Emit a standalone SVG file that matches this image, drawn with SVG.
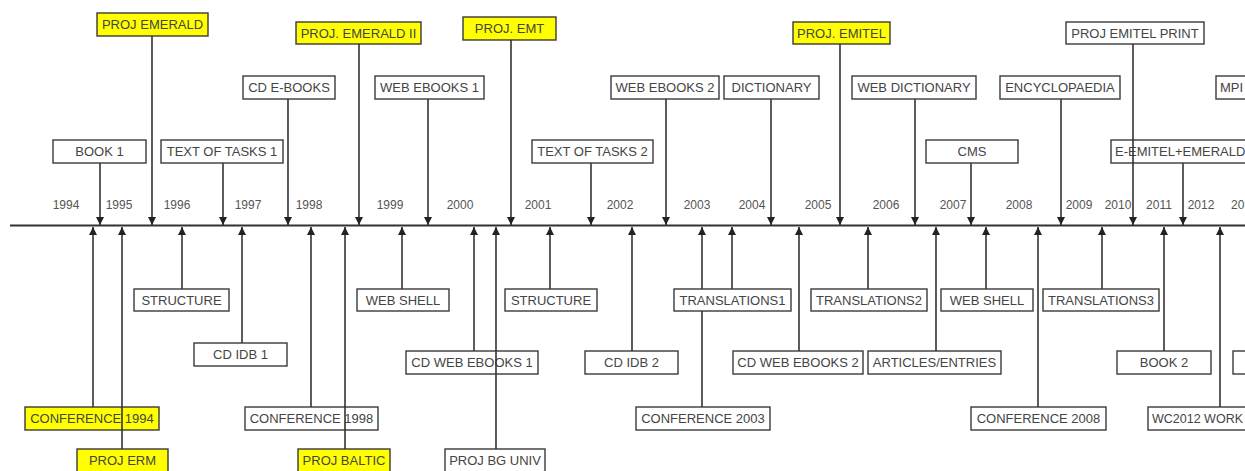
<svg xmlns="http://www.w3.org/2000/svg" width="1245" height="471" viewBox="0 0 1245 471">
<style>
.b{fill:#fff;stroke:#3a3a3a;stroke-width:1.4}
.y{fill:#ffff00;stroke:#3a3a3a;stroke-width:1.4}
.t{font-family:"Liberation Sans",Arial,sans-serif;font-size:13px;fill:#444;text-anchor:middle}
.s{font-family:"Liberation Sans",Arial,sans-serif;font-size:13px;fill:#444;text-anchor:start}
.yr{font-family:"Liberation Sans",Arial,sans-serif;font-size:12px;fill:#555;text-anchor:middle}
.c{stroke:#333;stroke-width:1.6;fill:none;marker-end:url(#ah)}
.p{stroke:#333;stroke-width:1.6;fill:none}
</style>
<defs>
<marker id="ah" viewBox="0 0 8 8" refX="8" refY="4" markerWidth="8" markerHeight="8" markerUnits="userSpaceOnUse" orient="auto">
<path d="M0,0 L8,4 L0,8 z" fill="#222"/>
</marker>
</defs>
<rect width="1245" height="471" fill="#fff"/>

<g id="years">
<text class="yr" x="66" y="209">1994</text>
<text class="yr" x="119" y="209">1995</text>
<text class="yr" x="177" y="209">1996</text>
<text class="yr" x="248" y="209">1997</text>
<text class="yr" x="309" y="209">1998</text>
<text class="yr" x="390" y="209">1999</text>
<text class="yr" x="460" y="209">2000</text>
<text class="yr" x="538" y="209">2001</text>
<text class="yr" x="620" y="209">2002</text>
<text class="yr" x="697" y="209">2003</text>
<text class="yr" x="752" y="209">2004</text>
<text class="yr" x="818" y="209">2005</text>
<text class="yr" x="886" y="209">2006</text>
<text class="yr" x="953" y="209">2007</text>
<text class="yr" x="1019" y="209">2008</text>
<text class="yr" x="1079" y="209">2009</text>
<text class="yr" x="1118" y="209">2010</text>
<text class="yr" x="1159" y="209">2011</text>
<text class="yr" x="1201" y="209">2012</text>
<text class="yr" x="1231" y="209" style="text-anchor:start">20</text>
</g>

<g id="axis"><line x1="10" y1="225.5" x2="1245" y2="225.5" stroke="#333" stroke-width="2"/></g>

<!-- top nodes -->
<g id="book1"><rect class="b" x="53" y="140" width="93" height="23"/><text class="t" x="99.5" y="156">BOOK 1</text></g>
<g id="proj-emerald"><rect class="y" x="97" y="13" width="111" height="23"/><text class="t" x="152.5" y="29">PROJ EMERALD</text></g>
<g id="text-of-tasks-1"><rect class="b" x="161" y="140" width="122" height="23"/><text class="t" x="222" y="156">TEXT OF TASKS 1</text></g>
<g id="cd-e-books"><rect class="b" x="243" y="76" width="92" height="23"/><text class="t" x="289" y="92">CD E-BOOKS</text></g>
<g id="proj-emerald-ii"><rect class="y" x="296" y="22" width="125" height="22"/><text class="t" x="358.5" y="38">PROJ. EMERALD II</text></g>
<g id="web-ebooks-1"><rect class="b" x="375" y="76" width="109" height="23"/><text class="t" x="429.5" y="92">WEB EBOOKS 1</text></g>
<g id="proj-emt"><rect class="y" x="463" y="17" width="93" height="23"/><text class="t" x="509.5" y="33">PROJ. EMT</text></g>
<g id="text-of-tasks-2"><rect class="b" x="532" y="140" width="121" height="23"/><text class="t" x="592.5" y="156">TEXT OF TASKS 2</text></g>
<g id="web-ebooks-2"><rect class="b" x="611" y="76" width="108" height="23"/><text class="t" x="665" y="92">WEB EBOOKS 2</text></g>
<g id="dictionary"><rect class="b" x="724" y="76" width="95" height="23"/><text class="t" x="771.5" y="92">DICTIONARY</text></g>
<g id="proj-emitel"><rect class="y" x="793" y="22" width="97" height="22"/><text class="t" x="841.5" y="38">PROJ. EMITEL</text></g>
<g id="web-dictionary"><rect class="b" x="852" y="76" width="124" height="23"/><text class="t" x="914" y="92">WEB DICTIONARY</text></g>
<g id="cms"><rect class="b" x="926" y="140" width="92" height="23"/><text class="t" x="972" y="156">CMS</text></g>
<g id="encyclopaedia"><rect class="b" x="1000" y="76" width="120" height="23"/><text class="t" x="1060" y="92">ENCYCLOPAEDIA</text></g>
<g id="proj-emitel-print"><rect class="b" x="1066" y="22" width="138" height="22"/><text class="t" x="1135" y="38">PROJ EMITEL PRINT</text></g>
<g id="mpi"><rect class="b" x="1216" y="76" width="40" height="23"/><text class="s" x="1220" y="92">MPI</text></g>
<g id="e-emitel-emerald"><rect class="b" x="1111" y="140" width="145" height="23"/><text class="s" x="1115" y="156">E-EMITEL+EMERALD</text></g>

<!-- bottom nodes -->
<g id="conference-1994"><rect class="y" x="25" y="407" width="134" height="23"/><text class="t" x="92" y="423">CONFERENCE 1994</text></g>
<g id="proj-erm"><rect class="y" x="77" y="449" width="91" height="24"/><text class="t" x="122.5" y="465">PROJ ERM</text></g>
<g id="structure-1"><rect class="b" x="134" y="289" width="95" height="22"/><text class="t" x="181.5" y="305">STRUCTURE</text></g>
<g id="cd-idb-1"><rect class="b" x="194" y="343" width="93" height="23"/><text class="t" x="240.5" y="359">CD IDB 1</text></g>
<g id="conference-1998"><rect class="b" x="245" y="407" width="133" height="23"/><text class="t" x="311.5" y="423">CONFERENCE 1998</text></g>
<g id="proj-baltic"><rect class="y" x="298" y="449" width="92" height="24"/><text class="t" x="344" y="465">PROJ BALTIC</text></g>
<g id="web-shell-1"><rect class="b" x="357" y="289" width="92" height="22"/><text class="t" x="403" y="305">WEB SHELL</text></g>
<g id="cd-web-ebooks-1"><rect class="b" x="406" y="351" width="132" height="23"/><text class="t" x="472" y="367">CD WEB EBOOKS 1</text></g>
<g id="proj-bg-univ"><rect class="b" x="445" y="449" width="100" height="24"/><text class="t" x="495" y="465">PROJ BG UNIV</text></g>
<g id="structure-2"><rect class="b" x="505" y="289" width="92" height="22"/><text class="t" x="551" y="305">STRUCTURE</text></g>
<g id="cd-idb-2"><rect class="b" x="585" y="351" width="93" height="23"/><text class="t" x="631.5" y="367">CD IDB 2</text></g>
<g id="conference-2003"><rect class="b" x="636" y="407" width="134" height="23"/><text class="t" x="703" y="423">CONFERENCE 2003</text></g>
<g id="cd-web-ebooks-2"><rect class="b" x="733" y="351" width="130" height="23"/><text class="t" x="798" y="367">CD WEB EBOOKS 2</text></g>
<g id="translations2"><rect class="b" x="811" y="289" width="116" height="22"/><text class="t" x="869" y="305">TRANSLATIONS2</text></g>
<g id="articles-entries"><rect class="b" x="868" y="351" width="133" height="23"/><text class="t" x="934.5" y="367">ARTICLES/ENTRIES</text></g>
<g id="web-shell-2"><rect class="b" x="941" y="289" width="92" height="22"/><text class="t" x="987" y="305">WEB SHELL</text></g>
<g id="conference-2008"><rect class="b" x="971" y="407" width="135" height="23"/><text class="t" x="1038.5" y="423">CONFERENCE 2008</text></g>
<g id="translations3"><rect class="b" x="1043" y="289" width="116" height="22"/><text class="t" x="1101" y="305">TRANSLATIONS3</text></g>
<g id="book2"><rect class="b" x="1117" y="351" width="94" height="23"/><text class="t" x="1164" y="367">BOOK 2</text></g>
<g id="clipped-box"><rect class="b" x="1233" y="351" width="30" height="23"/></g>
<g id="wc2012"><rect class="b" x="1148" y="407" width="110" height="23"/><text class="s" x="1152" y="423" textLength="91" lengthAdjust="spacingAndGlyphs">WC2012 WORK</text></g>

<g id="connectors">
<!-- down arrows -->
<path class="c" d="M100,163 V225"/>
<path class="c" d="M152,36 V225"/>
<path class="c" d="M223,163 V225"/>
<path class="c" d="M288,99 V225"/>
<path class="c" d="M359,44 V225"/>
<path class="c" d="M428,99 V225"/>
<path class="c" d="M511,40 V225"/>
<path class="c" d="M591,163 V225"/>
<path class="c" d="M666,99 V225"/>
<path class="c" d="M771,99 V225"/>
<path class="c" d="M840,44 V225"/>
<path class="c" d="M915,99 V225"/>
<path class="c" d="M971,163 V225"/>
<path class="c" d="M1061,99 V225"/>
<path class="c" d="M1133,44 V225"/>
<path class="c" d="M1183,163 V225"/>
<!-- up arrows -->
<path class="c" d="M93,407 V227"/>
<path class="c" d="M122,449 V227"/>
<path class="c" d="M182,289 V227"/>
<path class="c" d="M242,343 V227"/>
<path class="c" d="M311,407 V227"/>
<path class="c" d="M345,449 V227"/>
<path class="c" d="M402,289 V227"/>
<path class="c" d="M474,351 V227"/>
<path class="c" d="M496,449 V227"/>
<path class="c" d="M550,289 V227"/>
<path class="c" d="M632,351 V227"/>
<path class="p" d="M702,407 V311"/>
<path class="c" d="M702,289 V227"/>
<path class="c" d="M732,289 V227"/>
<path class="c" d="M799,351 V227"/>
<path class="c" d="M868,289 V227"/>
<path class="c" d="M936,351 V227"/>
<path class="c" d="M986,289 V227"/>
<path class="c" d="M1038,407 V227"/>
<path class="c" d="M1102,289 V227"/>
<path class="c" d="M1164,351 V227"/>
<path class="c" d="M1220,407 V227"/>
</g>

<g id="translations1"><rect class="b" x="674" y="289" width="117" height="22"/><text class="t" x="732.5" y="305">TRANSLATIONS1</text></g>
</svg>
